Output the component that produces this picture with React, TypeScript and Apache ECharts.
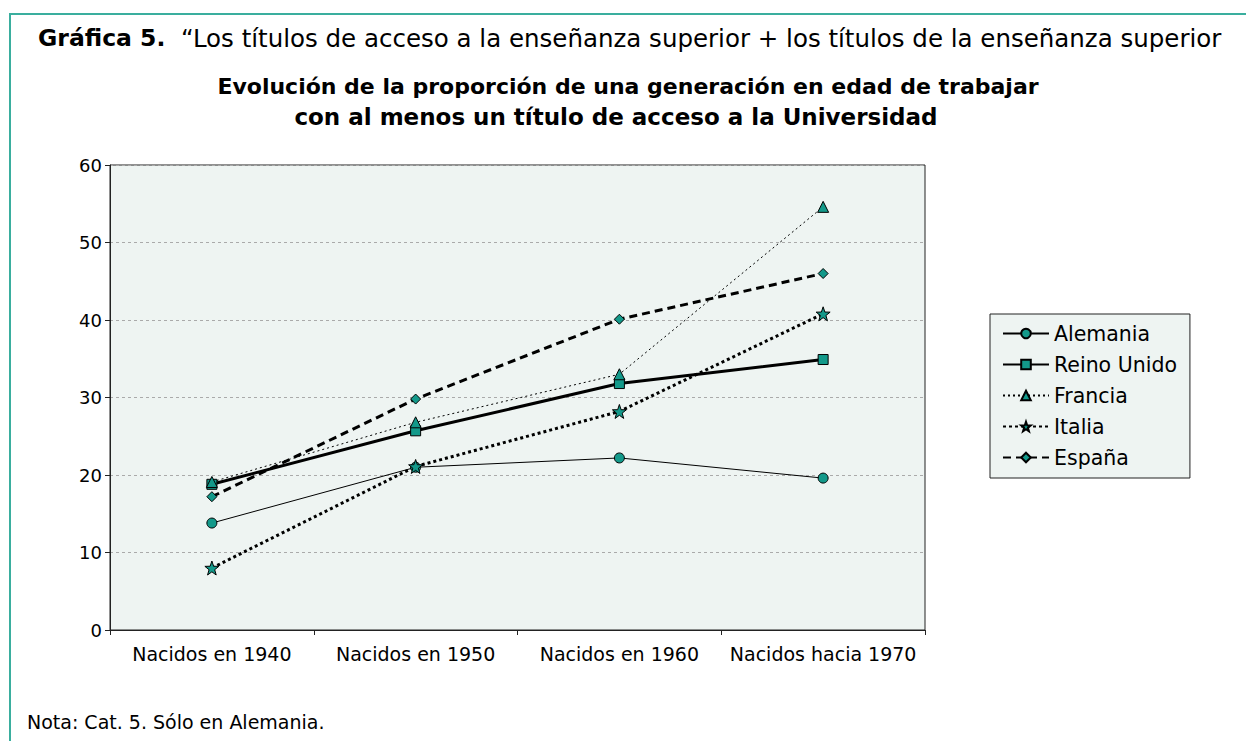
import React, { useEffect, useRef } from "react";
import * as echarts from "echarts";

const categories = ["Nacidos en 1940", "Nacidos en 1950", "Nacidos en 1960", "Nacidos hacia 1970"];
const alemania = [13.8, 21.0, 22.2, 19.6];
const reinoUnido = [18.8, 25.7, 31.8, 34.9];
const francia = [19.1, 26.8, 33.0, 54.6];
const italia = [8.0, 21.1, 28.2, 40.8];
const espana = [17.2, 29.8, 40.1, 46.0];
const yTicks = [0, 10, 20, 30, 40, 50, 60];

const FONT = "DejaVu Sans";
const TEAL = "#13998a";
const STAR =
  "path://M0,-10 L2.35,-3.24 L9.51,-3.09 L3.8,1.24 L5.88,8.09 L0,4 L-5.88,8.09 L-3.8,1.24 L-9.51,-3.09 L-2.35,-3.24 Z";

export default function App() {
  const ref = useRef<HTMLDivElement>(null);
  useEffect(() => {
    if (!ref.current) return;
    const chart = echarts.init(ref.current, null, { renderer: "svg" });
    const mk = (name: string, data: number[], symbol: string, size: number, width: number, type: any) => ({
      name,
      type: "line",
      data,
      symbol,
      symbolSize: size,
      itemStyle: { color: TEAL, borderColor: "#000", borderWidth: 1 },
      lineStyle: { color: "#000", width, type },
      emphasis: { disabled: true },
    });
    chart.setOption({
      animation: false,
      textStyle: { fontFamily: FONT },
      grid: {
        left: 110,
        top: 165,
        width: 815,
        height: 465,
        show: true,
        backgroundColor: "#eef4f2",
        borderColor: "#222",
        borderWidth: 1,
      },
      legend: {
        orient: "vertical",
        left: 990,
        top: 314,
        backgroundColor: "#eef4f2",
        borderColor: "#222",
        borderWidth: 1,
        padding: [9, 13, 10, 12],
        itemWidth: 46,
        itemHeight: 12,
        itemGap: 10,
        textStyle: { fontSize: 20.5, lineHeight: 20, color: "#000", fontFamily: FONT },
        data: ["Alemania", "Reino Unido", "Francia", "Italia", "España"],
      },
      xAxis: {
        type: "category",
        data: categories,
        boundaryGap: true,
        axisLine: { lineStyle: { color: "#222", width: 1 } },
        axisTick: { show: true, interval: 0, length: 5, lineStyle: { color: "#222" } },
        axisLabel: { fontSize: 19, color: "#000", margin: 14, interval: 0, fontFamily: FONT },
      },
      yAxis: {
        type: "value",
        min: yTicks[0],
        max: yTicks[yTicks.length - 1],
        interval: 10,
        axisLine: { show: true, lineStyle: { color: "#222", width: 1 } },
        axisTick: { show: true, length: 5, lineStyle: { color: "#222" } },
        axisLabel: { fontSize: 18, color: "#000", margin: 8, fontFamily: FONT },
        splitLine: { show: true, lineStyle: { color: "#aaa", type: [3, 3], width: 1 } },
      },
      series: [
        mk("Alemania", alemania, "circle", 10, 1, "solid"),
        mk("Reino Unido", reinoUnido, "rect", 10, 3, "solid"),
        mk("Francia", francia, "triangle", 11, 1, [2, 3]),
        mk("Italia", italia, STAR, 14, 3, [3, 3]),
        mk("España", espana, "diamond", 10, 3, [8, 5]),
      ],
      graphic: [
        { type: "line", shape: { x1: 9, y1: 14, x2: 1246, y2: 14 }, style: { stroke: "#3aae9e", lineWidth: 2 } },
        { type: "line", shape: { x1: 10, y1: 14, x2: 10, y2: 741 }, style: { stroke: "#3aae9e", lineWidth: 2 } },
        {
          type: "text",
          x: 38,
          y: 38,
          style: {
            text: "{b|Gráfica 5.}  “Los títulos de acceso a la enseñanza superior + los títulos de la enseñanza superior",
            font: `24.5px ${FONT}`,
            fill: "#000",
            verticalAlign: "middle",
            rich: { b: { fontWeight: "bold", fontSize: 23.5, fontFamily: FONT } },
          },
        },
        {
          type: "text",
          x: 628,
          y: 86,
          style: {
            text: "Evolución de la proporción de una generación en edad de trabajar",
            font: `bold 22px ${FONT}`,
            fill: "#000",
            align: "center",
            verticalAlign: "middle",
          },
        },
        {
          type: "text",
          x: 616,
          y: 117,
          style: {
            text: "con al menos un título de acceso a la Universidad",
            font: `bold 23px ${FONT}`,
            fill: "#000",
            align: "center",
            verticalAlign: "middle",
          },
        },
        {
          type: "text",
          x: 27,
          y: 722,
          style: {
            text: "Nota: Cat. 5. Sólo en Alemania.",
            font: `19px ${FONT}`,
            fill: "#000",
            verticalAlign: "middle",
          },
        },
      ],
    });
    return () => chart.dispose();
  }, []);
  return <div ref={ref} style={{ position: "absolute", left: 0, top: 0, width: 1246, height: 741 }} />;
}
